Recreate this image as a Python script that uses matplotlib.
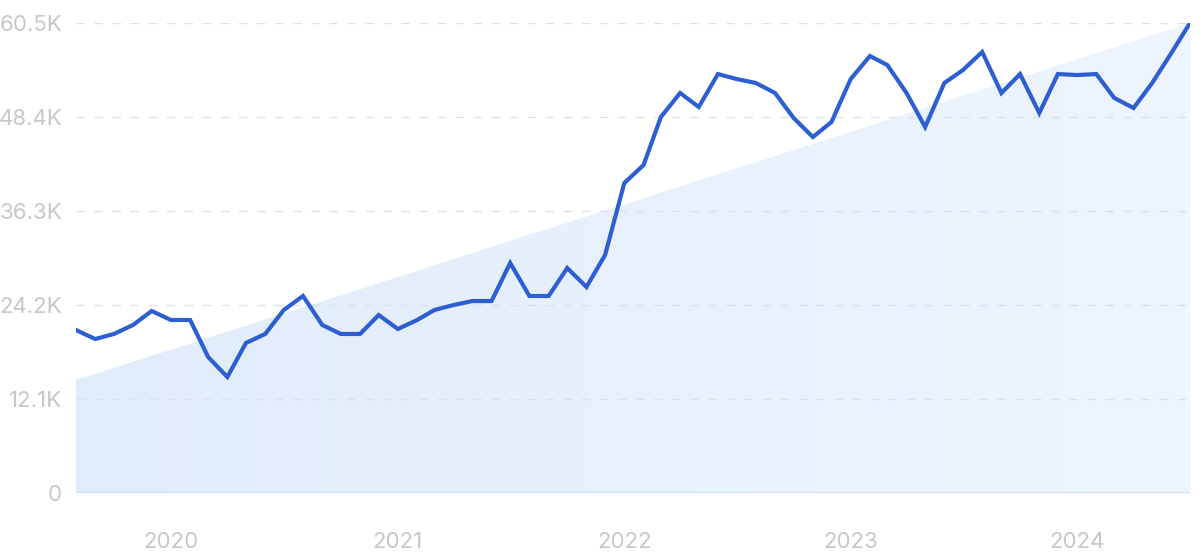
import numpy as np
import pandas as pd
import matplotlib
matplotlib.use('Agg')
import matplotlib.pyplot as plt
import matplotlib.dates as mdates
from matplotlib.ticker import FixedLocator

# --- data (monthly, in thousands) ---
start_month = '2019-08-01'
values_k = [20.98, 19.82, 20.47, 21.63, 23.43, 22.27, 22.27, 17.51, 14.93, 19.31,
            20.47, 23.56, 25.36, 21.63, 20.47, 20.47, 22.91, 21.11, 22.27, 23.56,
            24.20, 24.71, 24.71, 29.61, 25.36, 25.36, 28.96, 26.52, 30.64, 39.90,
            42.22, 48.40, 51.49, 49.69, 53.93, 53.29, 52.78, 51.49, 48.27, 45.82,
            47.76, 53.29, 56.25, 55.09, 51.49, 47.11, 52.78, 54.45, 56.77, 51.49,
            53.93, 48.91, 53.93, 53.80, 53.93, 50.84, 49.56, 52.78, 56.64, 60.50]
trend_k = [14.55, 60.50]  # straight trend band, first and last month
y_ticks_k = [0, 12.1, 24.2, 36.3, 48.4, 60.5]
y_tick_labels = ['0', '12.1K', '24.2K', '36.3K', '48.4K', '60.5K']
x_tick_years = [2020, 2021, 2022, 2023, 2024]

dates = pd.date_range(start_month, periods=len(values_k), freq='MS')
x = mdates.date2num(dates)
y = np.array(values_k) * 1000
trend = np.linspace(trend_k[0], trend_k[1], len(x)) * 1000

LINE = '#2e5fd2'
LABEL = '#c6c7cc'
GRID = '#d9e1ef'

fig = plt.figure(figsize=(12, 5.56), dpi=100)
ax = fig.add_axes([76 / 1200, 63 / 556, 1114 / 1200, 470 / 556])

# gradient trend area
poly = ax.fill_between(x, 0, trend, color='none', lw=0)
grad = np.linspace(0, 1, 256).reshape(1, -1)
cmap = matplotlib.colors.LinearSegmentedColormap.from_list('g', ['#e1ecfb', '#eef5fe'])
img = ax.imshow(grad, cmap=cmap, aspect='auto', extent=[x[0], x[-1], 0, 60500],
                origin='lower', zorder=1)
img.set_clip_path(poly.get_paths()[0], transform=ax.transData)

# grid lines
for t in y_ticks_k[1:]:
    ax.axhline(t * 1000, color=GRID, lw=1, dashes=(6, 7), zorder=2)
ax.axhline(0, color='#cbdcf4', lw=1.2, zorder=2)

ax.plot(x, y, color=LINE, lw=3, solid_joinstyle='miter', zorder=3)

ax.set_xlim(x[0], x[-1])
ax.set_ylim(0, 60500)
ax.yaxis.set_major_locator(FixedLocator([t * 1000 for t in y_ticks_k]))
ax.set_yticklabels(y_tick_labels)
ax.set_xticks(mdates.date2num([pd.Timestamp(f'{yr}-01-01') for yr in x_tick_years]))
ax.set_xticklabels([str(yr) for yr in x_tick_years])

for s in ax.spines.values():
    s.set_visible(False)
ax.tick_params(axis='both', length=0, colors=LABEL, labelsize=16)
ax.tick_params(axis='y', pad=10)
ax.tick_params(axis='x', pad=28)
for lab in ax.get_xticklabels() + ax.get_yticklabels():
    lab.set_fontfamily(['Inter', 'DejaVu Sans'])

fig.savefig('out.png', dpi=100)
